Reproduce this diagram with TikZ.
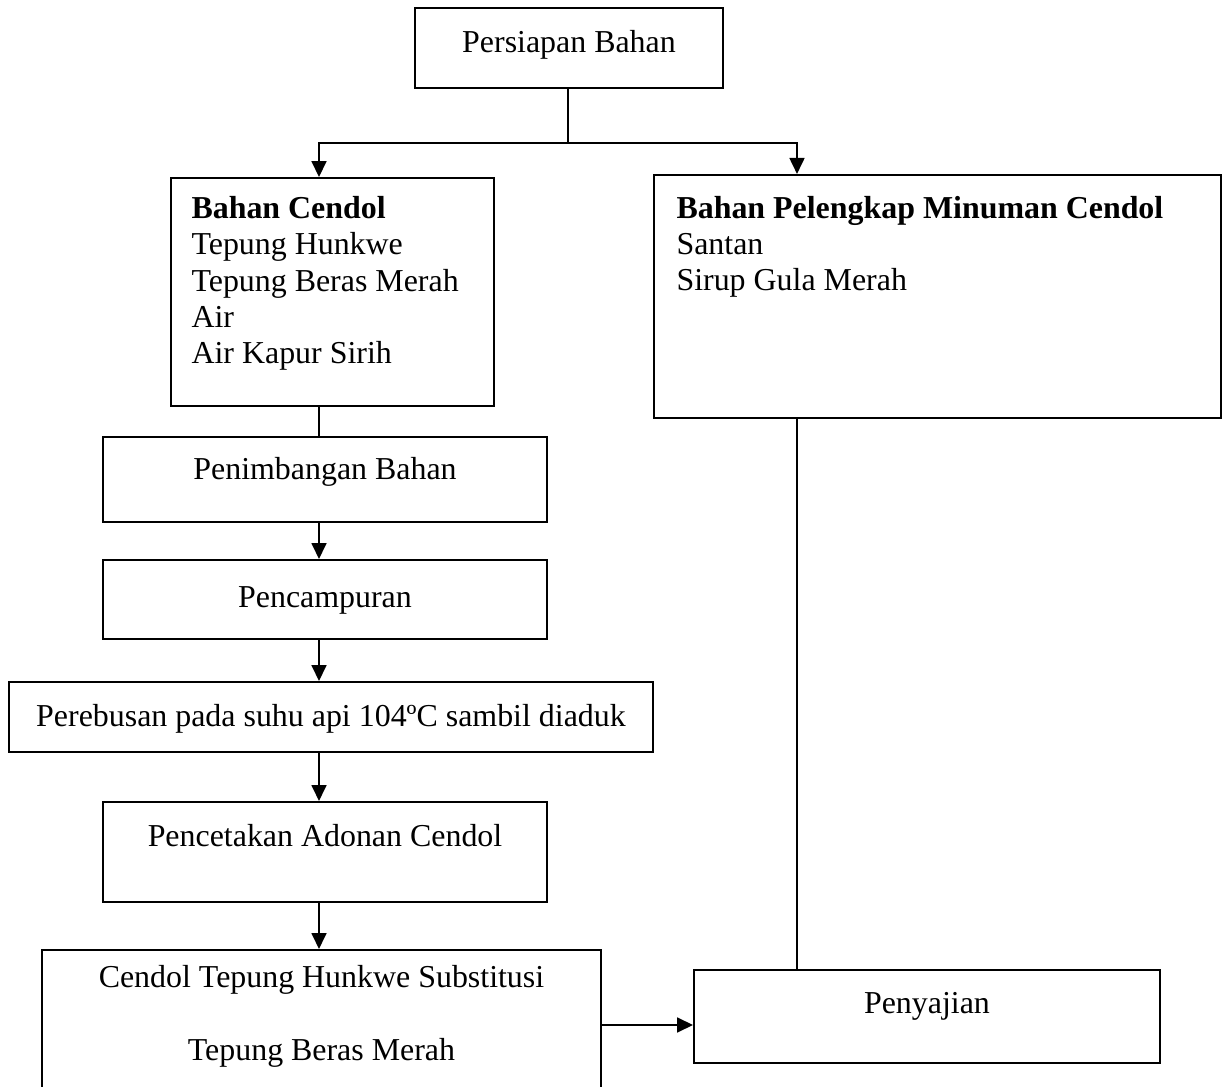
\documentclass[tikz,border=0pt]{standalone}
\usepackage{fontspec}
\setmainfont{Liberation Serif}
\usetikzlibrary{arrows.meta}

\begin{document}
\begin{tikzpicture}[x=0.376pt, y=-0.376pt]

\tikzset{box/.style = {shape=rectangle, draw, line width=0.75pt, inner sep=0pt}}
\tikzset{txt/.style = {inner sep=0pt, font=\fontsize{12pt}{13.7pt}\selectfont}}
\tikzset{line/.style = {line width=0.75pt}}
\tikzset{edge/.style = {line, -{Triangle[length=6pt,width=5.6pt]}}}

\useasboundingbox (0,0) rectangle (1223,1087);
\clip (0,0) rectangle (1223,1087);

%boxes
\node[box, minimum width=115.8pt, minimum height=30.1pt] (prep) at (569,48) {};
\node[box, minimum width=121.4pt, minimum height=85.7pt] (bahan) at (332.5,292) {};
\node[box, minimum width=213.2pt, minimum height=91.4pt] (lengkap) at (937.5,296.5) {};
\node[box, minimum width=167pt, minimum height=32pt] (timbang) at (325,479.5) {};
\node[box, minimum width=167pt, minimum height=29.7pt] (campur) at (325,599.5) {};
\node[box, minimum width=242.1pt, minimum height=26.3pt] (rebus) at (331,717) {};
\node[box, minimum width=167pt, minimum height=37.6pt] (cetak) at (325,852) {};
\node[box, minimum width=210.2pt, minimum height=56.4pt] (hasil) at (321.5,1025) {};
\node[box, minimum width=175.2pt, minimum height=35pt] (saji) at (927,1016.5) {};

%texts (multi-line ones sit on their last baseline)
\node[txt, anchor=base] (prep-t) at (569,53) {Persiapan Bahan};
\node[txt, anchor=base west, align=left] (bahan-t) at (191,364) {\textbf{Bahan Cendol}\\Tepung Hunkwe\\Tepung Beras Merah\\Air\\Air Kapur Sirih};
\node[txt, anchor=base west, align=left] (lengkap-t) at (676,291) {\textbf{Bahan Pelengkap Minuman Cendol}\\Santan\\Sirup Gula Merah};
\node[txt, anchor=base] (timbang-t) at (325,480) {Penimbangan Bahan};
\node[txt, anchor=base] (campur-t) at (325,608) {Pencampuran};
\node[txt, anchor=base] (rebus-t) at (331,727) {Perebusan pada suhu api 104ºC sambil diaduk};
\node[txt, anchor=base] (cetak-t) at (325,846) {Pencetakan Adonan Cendol};
\node[txt, anchor=base, align=center] (hasil-t) at (321.5,1060) {Cendol Tepung Hunkwe Substitusi\\[13.7pt]Tepung Beras Merah};
\node[txt, anchor=base] (saji-t) at (927,1013) {Penyajian};

%edges
\coordinate (split) at (568,143);
\coordinate (lsplit) at (319,143);
\coordinate (rsplit) at (797,143);
\draw[line] (prep.south -| split) -- (split);
\draw[edge] (split) -- (lsplit) -- (lsplit |- bahan.north);
\draw[edge] (split) -- (rsplit) -- (rsplit |- lengkap.north);
\draw[line] (lsplit |- bahan.south) -- (lsplit |- timbang.north);
\draw[edge] (lsplit |- timbang.south) -- (lsplit |- campur.north);
\draw[edge] (lsplit |- campur.south) -- (lsplit |- rebus.north);
\draw[edge] (lsplit |- rebus.south) -- (lsplit |- cetak.north);
\draw[edge] (lsplit |- cetak.south) -- (lsplit |- hasil.north);
\draw[line] (rsplit |- lengkap.south) -- (rsplit |- saji.north);
\draw[edge] (hasil.east) -- (saji.west |- hasil.east);

\end{tikzpicture}
\end{document}
